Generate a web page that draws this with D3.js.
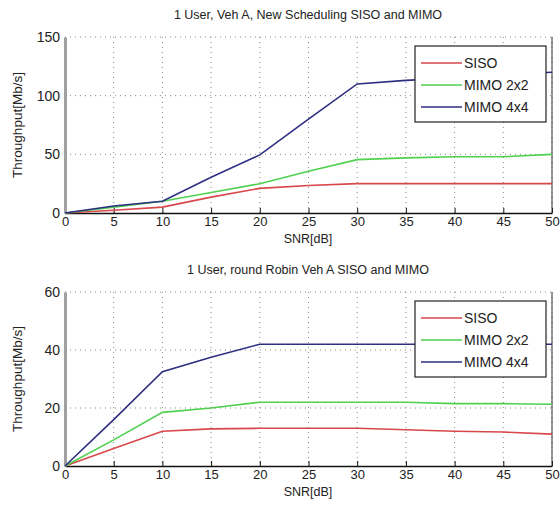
<!DOCTYPE html>
<html>
<head>
<meta charset="utf-8">
<script src="https://cdn.jsdelivr.net/npm/d3@7"></script>
<style>
  body { margin: 0; background: #fff; }
  svg { display: block; }
  text { font-family: "Liberation Sans", Arial, sans-serif; fill: #222; }
</style>
</head>
<body>
<svg id="chart" width="560" height="513"></svg>
<script>
// Дані
var snr = [0, 5, 10, 15, 20, 25, 30, 35, 40, 45, 50];
var seriesNames = ["SISO", "MIMO 2x2", "MIMO 4x4"];

var topSiso = [0, 2.3, 5, 13.5, 21, 23.5, 25, 25, 25, 25, 25];
var topMimo2 = [0, 5, 10, 17.5, 25, 35.5, 45.5, 47, 48, 48, 50];
var topMimo4 = [0, 6, 10, 30.5, 49.5, 80, 110, 113, 115, 118, 120];
var topTicks = [0, 50, 100, 150];

var botSiso = [0, 6, 12, 12.8, 13, 13, 13, 12.5, 12, 11.7, 11];
var botMimo2 = [0, 9, 18.5, 20, 22, 22, 22, 22, 21.5, 21.5, 21.3];
var botMimo4 = [0, 16, 32.5, 37.5, 42, 42, 42, 42, 42, 42, 42];
var botTicks = [0, 20, 40, 60];

var xTicks = [0, 5, 10, 15, 20, 25, 30, 35, 40, 45, 50];
var colors = ["#d8474c", "#4fd04f", "#2e2e82"];

var svg = d3.select("#chart");

function panel(opts) {
    var left = 65, right = 552;
    var x = d3.scaleLinear().domain([0, 50]).range([left, right]);
    var y = d3.scaleLinear().domain([0, opts.ymax]).range([opts.bottom, opts.top]);
    var g = svg.append("g");

    // сітка
    g.selectAll(".gx").data(xTicks.slice(1))
        .enter().append("line")
        .attr("x1", function (d) { return x(d); }).attr("x2", function (d) { return x(d); })
        .attr("y1", opts.top).attr("y2", opts.bottom)
        .attr("stroke", "#888").attr("stroke-width", 1).attr("stroke-dasharray", "1,4");
    g.selectAll(".gy").data(opts.yTicks.slice(1))
        .enter().append("line")
        .attr("x1", left).attr("x2", right)
        .attr("y1", function (d) { return y(d); }).attr("y2", function (d) { return y(d); })
        .attr("stroke", "#888").attr("stroke-width", 1).attr("stroke-dasharray", "1,4");

    // осі
    var xAxis = g.append("g")
        .attr("transform", "translate(0," + opts.bottom + ")")
        .call(d3.axisBottom(x).tickValues(xTicks).tickSize(-5).tickPadding(4).tickSizeOuter(0));
    xAxis.select(".domain").attr("stroke", "#111").attr("stroke-width", 1.5);
    xAxis.selectAll(".tick line").attr("stroke", "#111");
    xAxis.selectAll("text").attr("font-size", 13).attr("fill", "#333");

    var yAxis = g.append("g")
        .attr("transform", "translate(" + left + ",0)")
        .call(d3.axisLeft(y).tickValues(opts.yTicks).tickSize(0).tickPadding(5).tickSizeOuter(0));
    yAxis.select(".domain").attr("stroke", "#a0a0a0").attr("stroke-width", 3);
    yAxis.selectAll("text").attr("font-size", 14).attr("fill", "#333");

    g.append("line")
        .attr("x1", right).attr("x2", right).attr("y1", opts.top).attr("y2", opts.bottom)
        .attr("stroke", "#333").attr("stroke-width", 1);

    // лінії
    var line = d3.line()
        .x(function (d, i) { return x(snr[i]); })
        .y(function (d) { return y(d); });
    opts.series.forEach(function (s, k) {
        g.append("path").datum(s)
            .attr("fill", "none")
            .attr("stroke", colors[k])
            .attr("stroke-width", 1.6)
            .attr("d", line);
    });

    // заголовок і підписи
    g.append("text")
        .attr("x", 308).attr("y", opts.top - 18)
        .attr("text-anchor", "middle").attr("font-size", 12.5)
        .text(opts.title);
    g.append("text")
        .attr("x", 308).attr("y", opts.bottom + 30)
        .attr("text-anchor", "middle").attr("font-size", 12.5)
        .text("SNR[dB]");
    g.append("text")
        .attr("transform", "translate(22," + ((opts.top + opts.bottom) / 2) + ") rotate(-90)")
        .attr("text-anchor", "middle").attr("font-size", 13.5)
        .text("Throughput[Mb/s]");

    // легенда
    var lg = g.append("g").attr("transform", "translate(415," + (opts.top + 9) + ")");
    lg.append("rect")
        .attr("width", 131).attr("height", 76)
        .attr("fill", "#fff").attr("stroke", "#222").attr("stroke-width", 1.2);
    seriesNames.forEach(function (name, k) {
        var yy = 17 + k * 22;
        lg.append("line")
            .attr("x1", 6).attr("x2", 47).attr("y1", yy).attr("y2", yy)
            .attr("stroke", colors[k]).attr("stroke-width", 1.4);
        lg.append("text")
            .attr("x", 49).attr("y", yy).attr("dy", "0.35em")
            .attr("font-size", 14)
            .text(name);
    });
}

panel({
    title: "1 User, Veh A, New Scheduling SISO and MIMO",
    top: 37, bottom: 213, ymax: 150, yTicks: topTicks,
    series: [topSiso, topMimo2, topMimo4]
});

panel({
    title: "1 User, round Robin Veh A SISO and MIMO",
    top: 292, bottom: 466, ymax: 60, yTicks: botTicks,
    series: [botSiso, botMimo2, botMimo4]
});
</script>
</body>
</html>
